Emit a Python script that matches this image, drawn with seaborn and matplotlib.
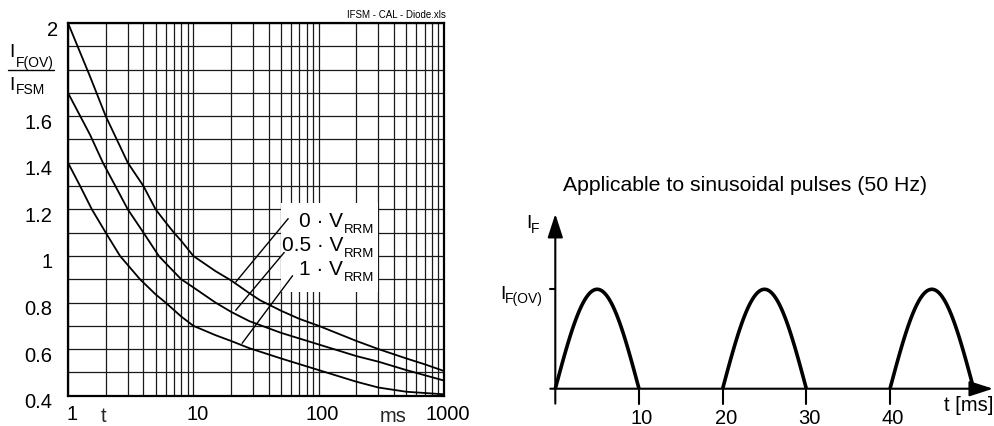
import numpy as np
import pandas as pd
import matplotlib
matplotlib.use("Agg")
import matplotlib.pyplot as plt
import seaborn as sns
from matplotlib.transforms import ScaledTranslation, blended_transform_factory
from matplotlib.ticker import FixedLocator, FixedFormatter
from matplotlib.patches import Rectangle

# ---------------- data ----------------
t_v0 = [1, 1.5, 2, 2.5, 3, 4, 5, 6, 7, 8, 10, 15, 20, 28, 34, 50, 70, 100,
        200, 300, 500, 700, 1000]
v_v0 = [2.0, 1.77, 1.6, 1.49, 1.4, 1.3, 1.2, 1.145, 1.1, 1.065, 1.0, 0.935,
        0.895, 0.84, 0.81, 0.765, 0.73, 0.70, 0.635, 0.60, 0.56, 0.535, 0.506]

t_v05 = [1, 1.5, 1.9, 2.5, 3, 4, 5.3, 6.5, 8, 10, 15, 20, 28, 50, 100, 200,
         300, 500, 1000]
v_v05 = [1.7, 1.52, 1.4, 1.28, 1.2, 1.1, 1.0, 0.95, 0.9, 0.865, 0.8, 0.76,
         0.72, 0.67, 0.62, 0.57, 0.546, 0.51, 0.465]

t_v1 = [1, 1.25, 1.55, 2, 2.6, 3.75, 5, 6, 8, 10, 15, 20, 28, 50, 100, 200,
        300, 500, 1000]
v_v1 = [1.4, 1.3, 1.2, 1.1, 1.0, 0.9, 0.835, 0.8, 0.74, 0.70, 0.66, 0.635,
        0.604, 0.56, 0.51, 0.46, 0.435, 0.417, 0.406]

curve_labels = ["0 \u00b7 V", "0.5 \u00b7 V", "1 \u00b7 V"]

y_major = [0.4, 0.6, 0.8, 1.0, 1.2, 1.4, 1.6, 1.8, 2.0]
y_major_labels = ["0.4", "0.6", "0.8", "1", "1.2", "1.4", "1.6", "", "2"]
y_minor = [0.5, 0.7, 0.9, 1.1, 1.3, 1.5, 1.7, 1.9]
x_major = [1, 10, 100, 1000]
x_major_labels = ["1", "10", "100", "1000"]

pulse_starts = [0, 20, 40]
pulse_width = 10
pulse_amp = 1.0
pulse_ticks = [10, 20, 30, 40]

# ---------------- style ----------------
sns.set_theme(style="white")
plt.rcParams["font.family"] = ["Liberation Sans", "DejaVu Sans"]
plt.rcParams["mathtext.fontset"] = "custom"
plt.rcParams["mathtext.rm"] = "Liberation Sans"

W, H = 994, 426
fig = plt.figure(figsize=(W / 100, H / 100), dpi=100)
fig.patch.set_facecolor("white")

FS = 14.5


def fx(px):
    return px / W


def fy(py):
    return 1 - py / H


def ptext(x, y, s, size, ha="left", **kw):
    fig.text(fx(x), fy(y), s, fontsize=size, ha=ha, va="baseline",
             color="black", **kw)


# ---------------- left chart ----------------
ax = fig.add_axes([fx(68), fy(395.7), fx(444) - fx(68), fy(23) - fy(395.7)])
df = pd.concat([
    pd.DataFrame({"t": t_v0, "v": v_v0, "curve": "0"}),
    pd.DataFrame({"t": t_v05, "v": v_v05, "curve": "0.5"}),
    pd.DataFrame({"t": t_v1, "v": v_v1, "curve": "1"}),
])
sns.lineplot(data=df, x="t", y="v", hue="curve", palette=["black"] * 3,
             estimator=None, sort=False, legend=False, linewidth=1.3, ax=ax,
             zorder=3)
ax.set_xscale("log")
ax.set_xlim(1, 1000)
ax.set_ylim(0.4, 2.0)
ax.set_xlabel("")
ax.set_ylabel("")
ax.xaxis.set_major_locator(FixedLocator(x_major))
ax.xaxis.set_major_formatter(FixedFormatter(x_major_labels))
ax.xaxis.set_minor_locator(matplotlib.ticker.LogLocator(base=10, subs=np.arange(2, 10)))
ax.xaxis.set_minor_formatter(matplotlib.ticker.NullFormatter())
ax.yaxis.set_major_locator(FixedLocator(y_major))
ax.yaxis.set_major_formatter(FixedFormatter(y_major_labels))
ax.yaxis.set_minor_locator(FixedLocator(y_minor))
ax.set_axisbelow(True)
ax.grid(which="both", color="#1a1a1a", linewidth=0.9)
ax.tick_params(which="both", length=0, labelsize=FS, colors="black")
ax.tick_params(axis="y", pad=11)
ax.tick_params(axis="x", pad=7)
for lab in ax.get_yticklabels():
    dx = 5 / 100 if lab.get_text() == "2" else 0
    lab.set_transform(lab.get_transform() + ScaledTranslation(dx, -5 / 100, fig.dpi_scale_trans))
for lab in ax.get_xticklabels():
    lab.set_transform(lab.get_transform() + ScaledTranslation(4 / 100, 0, fig.dpi_scale_trans))
for sp in ax.spines.values():
    sp.set_visible(True)
    sp.set_color("black")
    sp.set_linewidth(1.6)
    sp.set_zorder(5)

btr = blended_transform_factory(ax.transData, ax.transAxes)
ax.text(1.93, -0.0698, "t", transform=btr, fontsize=FS, ha="center", va="baseline")
ax.text(390, -0.0698, "ms", transform=btr, fontsize=FS, ha="center", va="baseline")

# label box with leader lines
ax.add_patch(Rectangle((50, 0.846), 246, 0.383, facecolor="white",
                       edgecolor="none", zorder=2))
ax.plot([21.8, 57.1], [0.888, 1.16], color="black", lw=1.0, zorder=4)
ax.plot([21.8, 53.1], [0.767, 1.015], color="black", lw=1.0, zorder=4)
ax.plot([24.5, 61.9], [0.625, 0.915], color="black", lw=1.0, zorder=4)

for lab, base in zip(curve_labels, [226.7, 250.7, 275.0]):
    ptext(343.3, base, lab, 15, ha="right")
    ptext(343.8, base + 6, "RRM", 9.5)

# y label (fraction)
ptext(9.0, 57, "I", 14)
ptext(16, 67, "F(OV)", 10)
fig.add_artist(plt.Line2D([fx(8), fx(54)], [fy(70), fy(70)], color="black", lw=1.0))
ptext(9.0, 90, "I", 14)
ptext(16, 94.5, "FSM", 10)

ptext(445.7, 18, "IFSM - CAL - Diode.xls", 7, ha="right")

# ---------------- right schematic ----------------
ax2 = fig.add_axes([fx(490), 0, fx(994) - fx(490), fy(200)])
ax2.set_xlim(-7.805, 52.43)
ax2.set_ylim(-0.375, 1.898)
ax2.axis("off")

rows = []
for s in pulse_starts:
    tt = np.linspace(s, s + pulse_width, 80)
    rows.append(pd.DataFrame({"t": tt,
                              "i": pulse_amp * np.sin(np.pi * (tt - s) / pulse_width),
                              "p": str(s)}))
dp = pd.concat(rows)
sns.lineplot(data=dp, x="t", y="i", hue="p", palette=["black"] * 3,
             estimator=None, sort=False, legend=False, linewidth=2.6, ax=ax2)
for ln in ax2.lines:
    ln.set_solid_capstyle("butt")
    ln.set_clip_on(False)
ax2.set_xlabel("")
ax2.set_ylabel("")

arrow_kw = dict(arrowstyle="-|>,head_length=1.45,head_width=0.47", lw=1.5,
                color="black", shrinkA=0, shrinkB=0, mutation_scale=10)
ax2.annotate("", xy=(52.31, 0), xytext=(-0.6, 0), arrowprops=arrow_kw,
             annotation_clip=False)
ax2.annotate("", xy=(0, 1.758), xytext=(0, -0.15), arrowprops=arrow_kw,
             annotation_clip=False)
ax2.plot([-0.6, 0], [pulse_amp, pulse_amp], color="black", lw=1.5)
for xt in pulse_ticks:
    ax2.plot([xt, xt], [0, -0.15], color="black", lw=1.5)
    ptext(555.3 + xt * 8.367 + 3.0, 423.5, str(xt), FS, ha="center")

ptext(526.0, 228.3, "I", 14)
ptext(530.5, 233.0, "F", 10)
ptext(500.0, 299.3, "I", 14)
ptext(505.0, 303.3, "F(OV)", 10)
ptext(993, 411, "t [ms]", FS, ha="right")
ptext(563.3, 190.7, "Applicable to sinusoidal pulses (50 Hz)", 15.3)

fig.savefig("out.png", dpi=100, facecolor="white")
